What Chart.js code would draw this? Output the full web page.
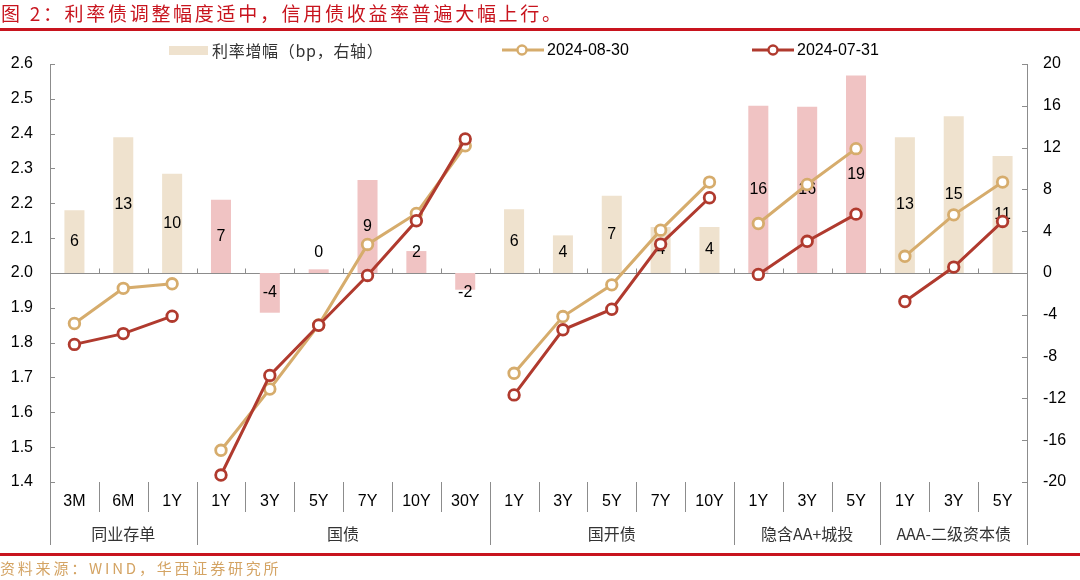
<!DOCTYPE html>
<html><head><meta charset="utf-8">
<script src="https://cdn.jsdelivr.net/npm/chart.js@4.4.1/dist/chart.umd.min.js"></script>
<style>
html,body{margin:0;padding:0;background:#fff;width:1080px;height:580px;overflow:hidden;}
#wrap{position:relative;width:1080px;height:580px;}
#c{position:absolute;left:0;top:0;}
.title{position:absolute;left:1px;top:0px;font-family:"Noto Sans CJK SC";font-size:19px;color:#C8141E;letter-spacing:2.7px;line-height:25px;white-space:nowrap;}
.rule{position:absolute;left:0;width:1080px;height:3px;background:#C8141E;}
.src{position:absolute;left:0;top:557px;font-family:"Noto Sans CJK SC";font-size:15px;color:#D4A464;letter-spacing:2.8px;line-height:22px;white-space:nowrap;}
.lg{position:absolute;font-size:16px;line-height:20px;white-space:nowrap;color:#000;}
.lgt{font-family:"Noto Sans CJK SC";color:#333;letter-spacing:0.7px;}
.lgn{font-family:"Liberation Sans",Arial,sans-serif;}
</style>
</head><body>
<div id="wrap">
<canvas id="c" width="1080" height="580"></canvas>
<div class="title">图 2：利率债调整幅度适中，信用债收益率普遍大幅上行。</div>
<div class="rule" style="top:28px"></div>
<div class="lg" style="left:169px;top:46px;width:39px;height:9px;background:#EFE2CE"></div>
<div class="lg lgt" style="left:212px;top:40px">利率增幅（bp，右轴）</div>
<svg class="lg" style="left:500px;top:40px" width="46" height="20"><line x1="2" y1="10" x2="44" y2="10" stroke="#D6AC6C" stroke-width="3"/><circle cx="22" cy="10" r="4.5" fill="#fff" stroke="#D6AC6C" stroke-width="2.4"/></svg>
<div class="lg lgn" style="left:547px;top:40px">2024-08-30</div>
<svg class="lg" style="left:750px;top:40px" width="46" height="20"><line x1="2" y1="10" x2="44" y2="10" stroke="#B03A2E" stroke-width="3"/><circle cx="23" cy="10" r="4.5" fill="#fff" stroke="#B03A2E" stroke-width="2.4"/></svg>
<div class="lg lgn" style="left:797px;top:40px">2024-07-31</div>
<div class="rule" style="top:553px"></div>
<div class="src">资料来源：WIND，华西证券研究所</div>
</div>
<script>
const categories = ['3M','6M','1Y','1Y','3Y','5Y','7Y','10Y','30Y','1Y','3Y','5Y','7Y','10Y','1Y','3Y','5Y','1Y','3Y','5Y'];
const groupNames = ['同业存单','国债','国开债','隐含AA+城投','AAA-二级资本债'];
const groupSizes = [3,6,5,3,3];
const yield0830 = [1.855,1.956,1.969, 1.491,1.667,1.851,2.082,2.171,2.365, 1.712,1.875,1.966,2.123,2.261, 2.142,2.254,2.357, 2.048,2.167,2.261];
const yield0731 = [1.795,1.826,1.876, 1.420,1.706,1.850,1.993,2.150,2.385, 1.650,1.837,1.896,2.083,2.216, 1.996,2.091,2.169, 1.918,2.017,2.148];
const changeBp = [6.0,13.0,9.5, 7.0,-3.8,0.35,8.9,2.1,-1.6, 6.1,3.6,7.4,4.4,4.4, 16.0,15.9,18.9, 13.0,15.0,11.2];
const leftTicks = {min:1.4,max:2.6,step:0.1};
const rightTicks = {min:-20,max:20,step:4};

const BEIGE='#EFE2CE', PINK='#F0C3C3', TAN='#D6AC6C', RED='#B03A2E', AXIS='#8C8C8C';
const groupOf = [];
groupSizes.forEach((n,g)=>{for(let i=0;i<n;i++)groupOf.push(g);});
const groupColors=[BEIGE,PINK,BEIGE,PINK,BEIGE];
const barColors = groupOf.map(g=>groupColors[g]);
const segColor = c => ctx => groupOf[ctx.p0DataIndex]===groupOf[ctx.p1DataIndex] ? c : 'rgba(0,0,0,0)';
const NUMFONT = '16px "Liberation Sans", Arial, sans-serif';

const deco = {
  id:'deco',
  beforeDatasetsDraw(chart){
    const {ctx, chartArea:a, scales:{x,y}} = chart;
    ctx.save();
    ctx.strokeStyle=AXIS; ctx.lineWidth=1;
    const y0 = Math.round(y.getPixelForValue(2.0))+0.5;
    ctx.beginPath(); ctx.moveTo(a.left,y0); ctx.lineTo(a.right,y0);
    const half = (x.getPixelForValue(1)-x.getPixelForValue(0))/2;
    for(let i=1;i<categories.length;i++){
      const bx=Math.round(x.getPixelForValue(i)-half)+0.5;
      ctx.moveTo(bx,y0); ctx.lineTo(bx,y0-5);
    }
    ctx.stroke();
    ctx.restore();
  },
  afterDraw(chart){
    const {ctx, chartArea:a, scales:{x,y,y1}} = chart;
    ctx.save();
    ctx.strokeStyle=AXIS; ctx.lineWidth=1;
    ctx.beginPath();
    for(let v=leftTicks.min; v<=leftTicks.max+1e-9; v+=leftTicks.step){
      const py=Math.round(y.getPixelForValue(v))+0.5;
      ctx.moveTo(a.left,py); ctx.lineTo(a.left+5,py);
    }
    for(let v=rightTicks.min; v<=rightTicks.max; v+=rightTicks.step){
      const py=Math.round(y1.getPixelForValue(v))+0.5;
      ctx.moveTo(a.right-5,py); ctx.lineTo(a.right,py);
    }
    const half = (x.getPixelForValue(1)-x.getPixelForValue(0))/2;
    const starts=[0]; groupSizes.forEach(n=>starts.push(starts[starts.length-1]+n));
    for(let i=0;i<=categories.length;i++){
      const bx=Math.round(i<categories.length? x.getPixelForValue(i)-half : x.getPixelForValue(i-1)+half)+0.5;
      const isGroup = starts.includes(i);
      ctx.moveTo(bx,a.bottom); ctx.lineTo(bx,a.bottom+(isGroup?63:30));
    }
    ctx.moveTo(Math.round(a.left)+0.5,a.top); ctx.lineTo(Math.round(a.left)+0.5,a.bottom);
    ctx.moveTo(Math.round(a.right)+0.5,a.top); ctx.lineTo(Math.round(a.right)+0.5,a.bottom);
    ctx.stroke();
    ctx.fillStyle='#000'; ctx.font=NUMFONT; ctx.textAlign='center'; ctx.textBaseline='middle';
    categories.forEach((c,i)=>ctx.fillText(c, x.getPixelForValue(i), a.bottom+20));
    ctx.font='16px "Noto Sans CJK SC"'; ctx.fillStyle='#333';
    groupNames.forEach((g,k)=>{
      const cx=(x.getPixelForValue(starts[k])+x.getPixelForValue(starts[k+1]-1))/2;
      ctx.fillText(g,cx,a.bottom+52);
    });
    ctx.restore();
  },
  afterDatasetDraw(chart,args){
    if(args.index!==0) return;
    const {ctx}=chart;
    const meta=chart.getDatasetMeta(0);
    ctx.save();
    ctx.fillStyle='#000'; ctx.font=NUMFONT; ctx.textAlign='center'; ctx.textBaseline='middle';
    meta.data.forEach((el,i)=>{
      const v=changeBp[i];
      let cy=(el.y+el.base)/2;
      const sgn = v>=0?-1:1;
      if(Math.abs(cy-el.base)<20) cy=el.base+sgn*20;
      ctx.fillText(String(Math.round(v)), el.x, cy);
    });
    ctx.restore();
  }
};

new Chart(document.getElementById('c'),{
  data:{
    labels:categories,
    datasets:[
      {type:'bar',label:'利率增幅（bp，右轴）',data:changeBp,yAxisID:'y1',backgroundColor:barColors,barPercentage:0.41,categoryPercentage:1,order:3},
      {type:'line',label:'2024-08-30',data:yield0830,yAxisID:'y',borderColor:TAN,borderWidth:3,pointRadius:5.3,pointBorderWidth:2.8,pointBackgroundColor:'#fff',pointBorderColor:TAN,segment:{borderColor:segColor(TAN)},order:2},
      {type:'line',label:'2024-07-31',data:yield0731,yAxisID:'y',borderColor:RED,borderWidth:3,pointRadius:5.3,pointBorderWidth:2.8,pointBackgroundColor:'#fff',pointBorderColor:RED,segment:{borderColor:segColor(RED)},order:1}
    ]
  },
  options:{
    responsive:false, animation:false,
    layout:{padding:{top:64,bottom:98,left:0,right:0}},
    plugins:{legend:{display:false},tooltip:{enabled:false},title:{display:false}},
    scales:{
      x:{display:false},
      y:{position:'left',min:leftTicks.min,max:leftTicks.max,
         ticks:{stepSize:leftTicks.step,padding:17,color:'#000',font:{family:'"Liberation Sans", Arial',size:16},callback:v=>Number(v).toFixed(1)},
         grid:{display:false,drawTicks:false},border:{display:false},
         afterFit:s=>{s.width=50;}},
      y1:{position:'right',min:rightTicks.min,max:rightTicks.max,
         ticks:{stepSize:rightTicks.step,padding:16,color:'#000',font:{family:'"Liberation Sans", Arial',size:16}},
         grid:{display:false,drawTicks:false},border:{display:false},
         afterFit:s=>{s.width=53;}}
    }
  },
  plugins:[deco]
});
</script>
</body></html>
